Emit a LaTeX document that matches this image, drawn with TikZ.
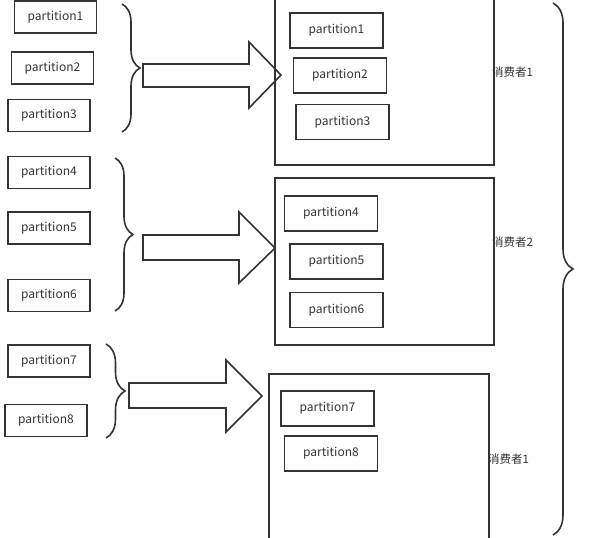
\documentclass[tikz,border=0pt]{standalone}
\usepackage{fontspec}
\setmainfont{Noto Sans CJK SC}
\usetikzlibrary{decorations.pathreplacing}

\tikzset{
  part/.style={draw=black!80, line width=1.6pt, minimum width=82pt, minimum height=32pt, inner sep=0pt, text height=0.75em, text depth=0.12em, font=\fontsize{12}{14}\selectfont, text=black!80},
  inpart/.style={part, minimum width=93pt, minimum height=35pt},
  consumer/.style={draw=black!80, line width=1.6pt, inner sep=0pt},
  lbl/.style={anchor=west, inner sep=0pt, font=\fontsize{11.5}{13}\selectfont, text=black!80},
  bigarrow/.style={draw=black!80, line width=1.6pt, fill=white},
  curly/.style={draw=black!80, line width=1.6pt, decorate, decoration={brace, amplitude=#1}}
}

\begin{document}
\begin{tikzpicture}[x=1pt, y=-1pt]
\useasboundingbox (0,0) rectangle (589,538);

% partitions on the left
\node[part] (p1) at (55.5,17) {partition1};
\node[part] (p2) at (52.5,68) {partition2};
\node[part] (p3) at (49,115.5) {partition3};
\node[part] (p4) at (49,172.5) {partition4};
\node[part] (p5) at (49,228) {partition5};
\node[part] (p6) at (49,295.5) {partition6};
\node[part] (p7) at (49,361) {partition7};
\node[part] (p8) at (46,420.5) {partition8};

% braces
\draw[curly=18pt] (122,4) -- (122,132);
\draw[curly=18pt] (115,158) -- (115,311);
\draw[curly=19pt] (106,344) -- (106,438);
\draw[curly=20pt] (553,3) -- (553,535);

% arrows
\draw[bigarrow] (143,64) -- (249,64) -- (249,42) -- (281,75) -- (249,108) -- (249,87) -- (143,87) -- cycle;
\draw[bigarrow] (143,235) -- (239,235) -- (239,212) -- (275,248) -- (239,283) -- (239,260) -- (143,260) -- cycle;
\draw[bigarrow] (129,383) -- (226,383) -- (226,360) -- (262,396) -- (226,432) -- (226,408) -- (129,408) -- cycle;

% consumers
\node[consumer, minimum width=219pt, minimum height=167pt] (c1) at (384.5,81.5) {};
\node[consumer, minimum width=219pt, minimum height=167pt] (c2) at (384.5,261.5) {};
\node[consumer, minimum width=220pt, minimum height=171pt] (c3) at (379,459.5) {};

\node[inpart] (q1) at (336.5,30.5) {partition1};
\node[inpart] (q2) at (340,75.5) {partition2};
\node[inpart] (q3) at (342.5,122) {partition3};
\node[inpart] (q4) at (331,213.5) {partition4};
\node[inpart] (q5) at (336.5,261.5) {partition5};
\node[inpart] (q6) at (336.5,310) {partition6};
\node[inpart] (q7) at (327.5,408.5) {partition7};
\node[inpart] (q8) at (331,453.5) {partition8};

\node[lbl] (n1) at (492,72) {消费者1};
\node[lbl] (n2) at (492,242) {消费者2};
\node[lbl] (n3) at (488,459) {消费者1};

\end{tikzpicture}
\end{document}
